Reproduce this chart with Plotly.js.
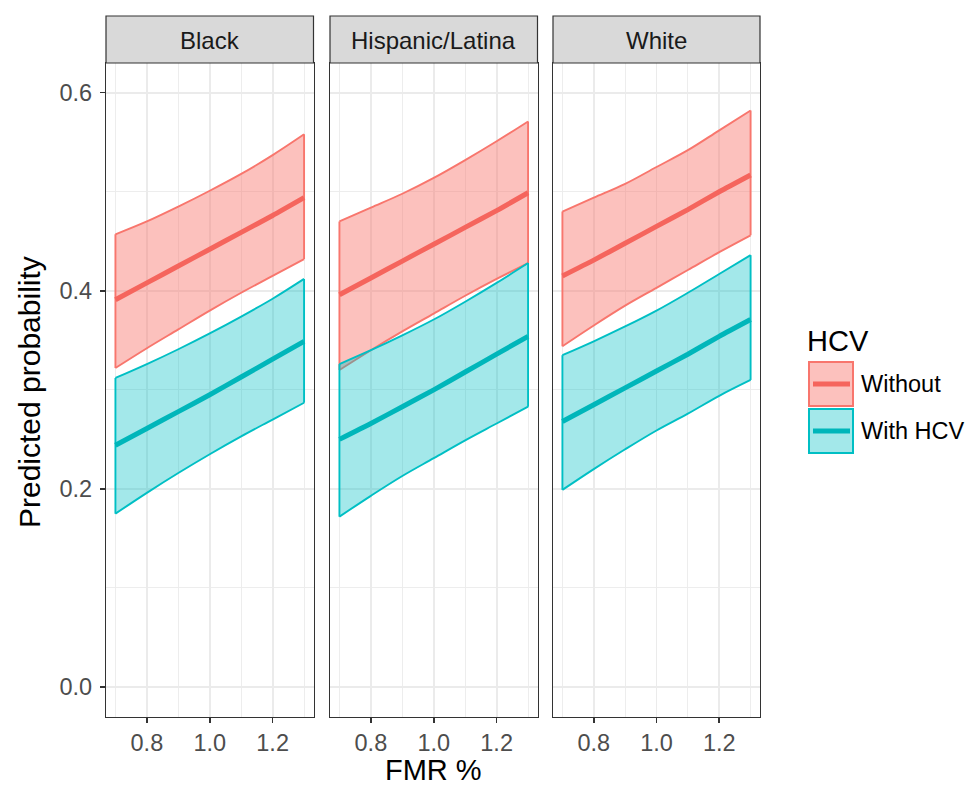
<!DOCTYPE html>
<html>
<head>
<meta charset="utf-8">
<script src="https://cdn.plot.ly/plotly-3.0.1.min.js"></script>
<style>html,body{margin:0;padding:0;background:#fff}#chart{width:972px;height:788px}</style>
</head>
<body>
<div id="chart"></div>
<script>
// ---- data ----
const fmr = [0.7, 0.8, 0.9, 1.0, 1.1, 1.2, 1.3];
const races = ['Black', 'Hispanic/Latina', 'White'];
const groups = ['Without', 'With HCV'];

// Black
const blackWithoutFit = [0.391, 0.408, 0.425, 0.442, 0.459, 0.476, 0.494];
const blackWithoutLo  = [0.322, 0.342, 0.361, 0.380, 0.398, 0.415, 0.432];
const blackWithoutHi  = [0.457, 0.470, 0.485, 0.501, 0.518, 0.537, 0.558];
const blackWithFit    = [0.244, 0.261, 0.278, 0.295, 0.313, 0.331, 0.349];
const blackWithLo     = [0.175, 0.196, 0.216, 0.235, 0.253, 0.270, 0.287];
const blackWithHi     = [0.312, 0.326, 0.341, 0.357, 0.374, 0.392, 0.412];

// Hispanic/Latina
const hispWithoutFit = [0.396, 0.413, 0.430, 0.447, 0.464, 0.481, 0.499];
const hispWithoutLo  = [0.320, 0.340, 0.359, 0.377, 0.395, 0.412, 0.428];
const hispWithoutHi  = [0.470, 0.484, 0.498, 0.514, 0.532, 0.551, 0.571];
const hispWithFit    = [0.250, 0.266, 0.283, 0.300, 0.318, 0.336, 0.354];
const hispWithLo     = [0.172, 0.193, 0.213, 0.231, 0.249, 0.266, 0.283];
const hispWithHi     = [0.326, 0.340, 0.355, 0.371, 0.389, 0.408, 0.428];

// White
const whiteWithoutFit = [0.415, 0.431, 0.448, 0.465, 0.482, 0.500, 0.517];
const whiteWithoutLo  = [0.344, 0.365, 0.385, 0.403, 0.421, 0.439, 0.456];
const whiteWithoutHi  = [0.480, 0.494, 0.508, 0.525, 0.542, 0.562, 0.582];
const whiteWithFit    = [0.268, 0.285, 0.302, 0.319, 0.336, 0.354, 0.371];
const whiteWithLo     = [0.199, 0.220, 0.240, 0.259, 0.276, 0.294, 0.310];
const whiteWithHi     = [0.335, 0.349, 0.364, 0.380, 0.398, 0.417, 0.436];

const xTickVals = [0.8, 1.0, 1.2];
const xTickText = ['0.8', '1.0', '1.2'];
const yTickVals = [0.0, 0.2, 0.4, 0.6];
const yTickText = ['0.0', '0.2', '0.4', '0.6'];

// ---- styling ----
const W = 972, H = 788;
const RED = '#F8766D', TEAL = '#00BFC4';
const RED_LINE = '#F5655D', TEAL_LINE = '#00B6BA';
const RED_FILL = 'rgba(248,118,109,0.45)', TEAL_FILL = 'rgba(0,191,196,0.36)';
const FONT = 'Liberation Sans, Arial, Helvetica, sans-serif';
const px = v => v / W;
const py = v => 1 - v / H;

const panelData = [
  {fits: [blackWithoutFit, blackWithFit], los: [blackWithoutLo, blackWithLo], his: [blackWithoutHi, blackWithHi]},
  {fits: [hispWithoutFit, hispWithFit], los: [hispWithoutLo, hispWithLo], his: [hispWithoutHi, hispWithHi]},
  {fits: [whiteWithoutFit, whiteWithFit], los: [whiteWithoutLo, whiteWithLo], his: [whiteWithoutHi, whiteWithHi]}
];
const colors = [RED, TEAL];
const lineColors = [RED_LINE, TEAL_LINE];
const fills = [RED_FILL, TEAL_FILL];

const panelX = [[106, 313.5], [330, 537.5], [553, 760]];
const panelTop = 63, panelBottom = 716.7, stripTop = 16;

const traces = [];
panelData.forEach((p, i) => {
  const xa = i === 0 ? 'x' : 'x' + (i + 1);
  const ya = i === 0 ? 'y' : 'y' + (i + 1);
  const n = fmr.length;
  // ribbons: lower bound, then upper bound filled to it
  for (let g = 0; g < 2; g++) {
    traces.push({x: fmr, y: p.los[g], xaxis: xa, yaxis: ya, type: 'scatter', mode: 'lines',
      line: {color: colors[g], width: 1.9, shape: 'spline', smoothing: 1},
      showlegend: false, hoverinfo: 'skip', name: groups[g]});
    traces.push({x: fmr, y: p.his[g], xaxis: xa, yaxis: ya, type: 'scatter', mode: 'lines',
      fill: 'tonexty', fillcolor: fills[g],
      line: {color: colors[g], width: 1.9, shape: 'spline', smoothing: 1},
      showlegend: false, hoverinfo: 'skip', name: groups[g]});
    // vertical ends of the ribbon
    traces.push({x: [fmr[0], fmr[0], null, fmr[n - 1], fmr[n - 1]],
      y: [p.los[g][0], p.his[g][0], null, p.los[g][n - 1], p.his[g][n - 1]],
      xaxis: xa, yaxis: ya, type: 'scatter', mode: 'lines',
      line: {color: colors[g], width: 1.9}, showlegend: false, hoverinfo: 'skip', name: groups[g]});
  }
  // fitted lines
  for (let g = 0; g < 2; g++) {
    traces.push({x: fmr, y: p.fits[g], xaxis: xa, yaxis: ya, type: 'scatter', mode: 'lines',
      line: {color: lineColors[g], width: 5, shape: 'spline', smoothing: 0.6}, showlegend: false, name: groups[g]});
  }
});

const layout = {
  width: W, height: H,
  margin: {l: 0, r: 0, t: 0, b: 0},
  paper_bgcolor: '#fff', plot_bgcolor: '#fff',
  font: {family: FONT, color: '#4D4D4D'},
  showlegend: false,
  shapes: [], annotations: []
};

const axisCommon = {
  showline: true, mirror: true, linecolor: '#333333', linewidth: 1.2,
  gridcolor: '#EBEBEB', gridwidth: 1.8, zeroline: false,
  ticks: 'outside', ticklen: 5, tickwidth: 1.5, tickcolor: '#333333',
  tickfont: {family: FONT, size: 23.5, color: '#4D4D4D'}
};

for (let i = 0; i < 3; i++) {
  const suf = i === 0 ? '' : String(i + 1);
  layout['xaxis' + suf] = Object.assign({}, axisCommon, {
    domain: [px(panelX[i][0]), px(panelX[i][1])],
    anchor: 'y' + suf, range: [0.67, 1.33],
    tickmode: 'array', tickvals: xTickVals, ticktext: xTickText,
    ticklabelstandoff: 0,
    minor: {tickmode: 'array', tickvals: [0.7, 0.9, 1.1, 1.3], showgrid: true, gridcolor: '#EBEBEB', gridwidth: 0.9, ticks: ''}
  });
  layout['yaxis' + suf] = Object.assign({}, axisCommon, {
    domain: [py(panelBottom), py(panelTop)],
    anchor: 'x' + suf, range: [-0.03, 0.63],
    tickmode: 'array', tickvals: yTickVals, ticktext: yTickText,
    ticklabelstandoff: 3,
    showticklabels: i === 0, ticks: i === 0 ? 'outside' : '',
    minor: {tickmode: 'array', tickvals: [0.1, 0.3, 0.5], showgrid: true, gridcolor: '#EBEBEB', gridwidth: 0.9, ticks: ''}
  });
  // strip
  layout.shapes.push({type: 'rect', xref: 'paper', yref: 'paper',
    x0: px(panelX[i][0]), x1: px(panelX[i][1]), y0: py(panelTop), y1: py(stripTop),
    fillcolor: '#D9D9D9', line: {color: '#333333', width: 1.2}, layer: 'above'});
  layout.annotations.push({xref: 'paper', yref: 'paper',
    x: px((panelX[i][0] + panelX[i][1]) / 2), y: py((panelTop + stripTop) / 2 + 1),
    text: races[i], showarrow: false, xanchor: 'center', yanchor: 'middle',
    font: {family: FONT, size: 24, color: '#1A1A1A'}});
}

// axis titles
layout.annotations.push({xref: 'paper', yref: 'paper', x: px(433), y: py(787),
  text: 'FMR %', showarrow: false, xanchor: 'center', yanchor: 'bottom',
  borderpad: 0, font: {family: FONT, size: 29, color: '#000'}});
layout.annotations.push({xref: 'paper', yref: 'paper', x: px(30), y: py(392),
  text: 'Predicted probability', textangle: -90, showarrow: false, xanchor: 'center', yanchor: 'middle',
  font: {family: FONT, size: 30, color: '#000'}});

// legend (drawn manually to match ggplot keys)
layout.annotations.push({xref: 'paper', yref: 'paper', x: px(805), y: py(341),
  text: 'HCV', showarrow: false, xanchor: 'left', yanchor: 'middle',
  font: {family: FONT, size: 29, color: '#000'}});
const keyTops = [361, 408];
for (let g = 0; g < 2; g++) {
  const t = keyTops[g];
  layout.shapes.push({type: 'rect', xref: 'paper', yref: 'paper',
    x0: px(809), x1: px(853), y0: py(t + 45), y1: py(t + 1),
    fillcolor: fills[g], line: {color: colors[g], width: 2}});
  layout.shapes.push({type: 'line', xref: 'paper', yref: 'paper',
    x0: px(813), x1: px(850), y0: py(t + 23), y1: py(t + 23),
    line: {color: lineColors[g], width: 5}});
  layout.annotations.push({xref: 'paper', yref: 'paper', x: px(859), y: py(t + 23),
    text: groups[g], showarrow: false, xanchor: 'left', yanchor: 'middle',
    font: {family: FONT, size: 23.5, color: '#000'}});
}

Plotly.newPlot('chart', traces, layout, {displayModeBar: false, staticPlot: true});
</script>
</body>
</html>
